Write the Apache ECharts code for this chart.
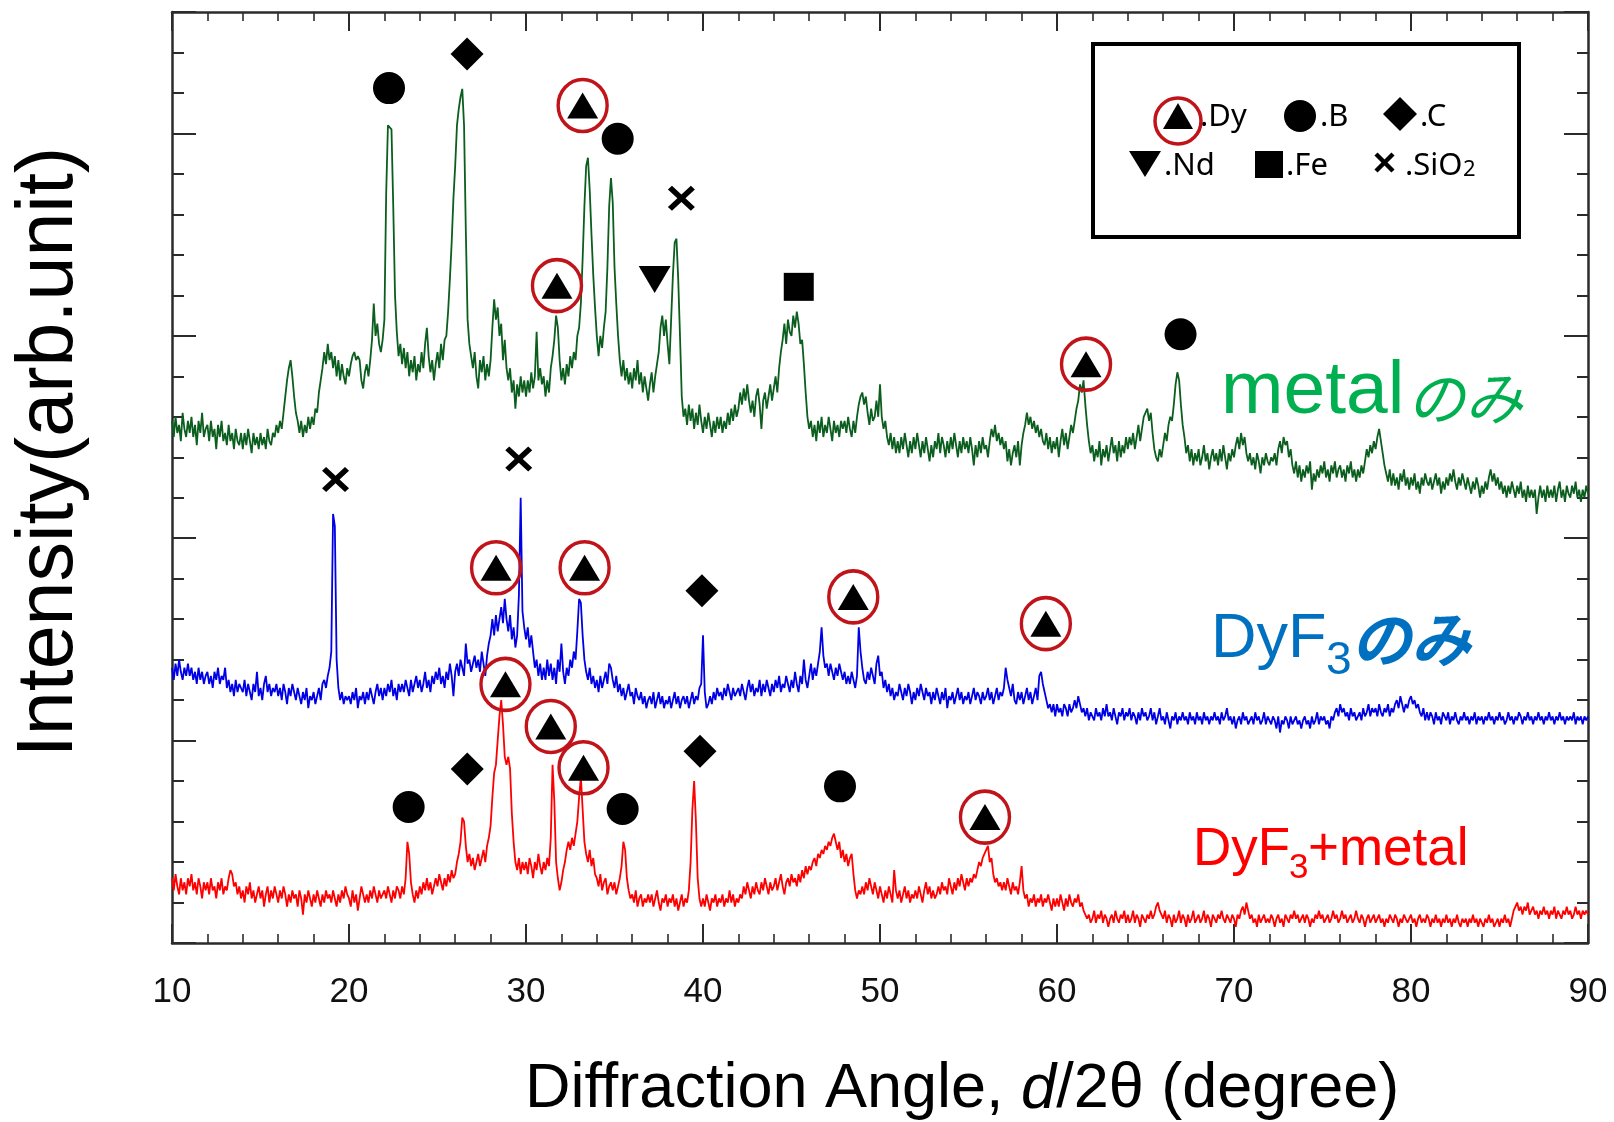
<!DOCTYPE html>
<html>
<head>
<meta charset="utf-8">
<title>XRD patterns: metal / DyF3 / DyF3+metal</title>
<script src="https://cdn.jsdelivr.net/npm/echarts@6/dist/echarts.min.js"></script>
<style>
  html, body { margin: 0; padding: 0; background: #ffffff; }
  #chart { width: 1614px; height: 1122px; }
</style>
</head>
<body>
<div id="chart"></div>
<script>
// Scan grid: 2θ from 10° to 90° in 0.1° steps (801 points per pattern)
const ANGLE_START = 10;
const ANGLE_STEP = 0.1;

// Intensity (arb. unit, offset stacked) — "metalのみ"
const metalOnly = [
12.9,12.5,13.0,12.6,12.8,12.4,13.1,12.7,12.5,12.9,
12.6,13.0,12.5,12.8,12.3,12.9,12.6,13.1,12.5,12.7,
12.8,12.4,12.9,12.5,12.7,12.2,12.8,12.5,12.9,12.4,
12.6,12.3,12.8,12.4,12.6,12.2,12.7,12.4,12.3,12.6,
12.2,12.6,12.3,12.7,12.4,12.1,12.6,12.3,12.5,12.2,
12.6,12.3,12.5,12.2,12.7,12.4,12.3,12.6,12.5,12.8,
12.6,12.9,12.7,13.1,13.5,13.9,14.2,14.4,14.0,13.5,
13.1,12.9,12.6,12.9,12.5,12.8,12.6,13.0,12.7,13.0,
12.8,13.2,13.1,13.6,13.9,14.2,14.6,14.3,14.8,14.4,
14.6,14.2,14.5,14.0,14.4,13.9,14.3,14.0,13.8,14.2,
14.0,14.3,14.5,14.6,14.4,14.5,14.4,13.9,13.7,14.1,
14.3,14.0,14.4,14.9,15.8,15.0,15.3,14.8,14.6,14.9,
15.4,18.5,20.2,20.2,20.1,18.2,16.0,15.1,14.5,14.8,
14.3,14.7,14.2,14.6,14.0,14.4,14.1,14.5,13.9,14.3,
14.1,14.6,14.2,14.8,15.2,14.5,14.1,14.4,13.9,14.3,
14.6,14.2,14.8,14.4,14.9,15.0,15.6,16.4,17.3,18.4,
19.2,20.2,20.6,20.9,21.1,20.2,17.6,15.4,14.8,14.5,
14.2,14.6,14.0,13.7,14.4,14.1,14.5,13.9,14.3,14.0,
14.4,15.2,15.9,15.4,15.7,15.0,15.3,14.4,14.9,14.2,
13.9,14.2,13.6,13.9,13.2,13.8,13.5,14.0,13.6,13.9,
13.5,13.9,13.6,14.1,13.7,14.0,15.1,13.9,14.2,13.8,
14.0,13.5,13.9,13.6,14.2,14.5,14.9,15.5,15.2,14.4,
13.9,14.2,13.8,14.3,14.0,14.5,14.2,14.6,14.4,15.0,
15.2,15.8,16.9,18.2,19.2,19.4,18.6,17.5,16.5,15.7,
15.0,14.5,15.0,14.7,15.2,15.6,16.7,18.2,18.9,18.3,
16.7,15.8,15.0,14.4,14.0,14.4,13.9,14.2,13.8,14.1,
13.7,14.2,13.9,14.4,13.8,14.1,13.6,14.0,13.7,13.4,
13.8,14.1,13.6,14.0,14.3,14.6,15.2,15.5,15.0,15.4,
14.8,14.3,15.4,16.5,17.3,17.4,16.4,15.0,13.5,13.0,
13.2,12.8,13.3,12.9,13.2,12.7,13.1,12.8,13.3,12.9,
12.6,13.0,12.7,13.1,12.8,12.5,12.9,12.6,13.0,12.7,
13.0,12.6,12.9,12.7,13.1,12.8,13.2,12.9,13.3,13.0,
13.2,13.6,13.3,13.7,13.4,13.8,13.4,13.1,13.4,13.0,
13.5,13.7,13.3,12.7,13.4,13.6,13.2,13.5,13.8,13.4,
13.7,14.0,13.6,14.2,14.6,14.9,15.3,14.8,15.4,15.1,
15.0,15.5,15.2,15.6,15.3,14.8,14.9,14.3,13.6,13.0,
12.7,12.9,12.5,12.8,12.4,12.9,12.6,13.0,12.5,12.8,
12.6,13.0,12.7,12.4,12.9,12.6,12.8,12.5,12.9,12.7,
12.9,12.6,13.0,12.7,12.5,12.9,12.6,13.0,13.3,13.5,
13.6,13.3,13.5,13.1,12.8,13.2,12.9,13.0,13.4,13.0,
13.8,13.0,12.7,12.9,12.5,12.3,12.6,12.2,12.5,12.1,
12.4,12.1,12.5,12.2,12.6,12.3,12.0,12.4,12.1,12.5,
12.2,12.6,12.3,12.0,12.4,12.1,12.5,12.2,11.9,12.3,
12.0,12.4,12.2,12.6,12.1,12.5,12.3,12.0,12.4,12.1,
12.5,12.2,12.6,12.3,12.0,12.4,12.1,12.5,12.2,12.4,
12.1,12.5,12.2,11.8,12.3,12.0,12.4,12.1,12.5,12.2,
12.3,12.0,12.4,12.7,12.5,12.8,12.4,12.6,12.3,12.5,
12.2,12.4,11.9,12.2,11.8,12.1,12.3,12.0,12.4,11.8,
12.3,12.6,12.8,13.1,12.8,13.0,12.7,12.9,12.6,12.8,
12.5,12.7,12.4,12.3,12.6,12.2,12.5,12.1,12.4,12.2,
12.5,12.0,12.4,12.7,12.3,12.6,12.2,12.5,12.8,12.6,
12.9,13.2,13.4,13.8,13.6,13.9,13.3,12.8,12.4,12.1,
12.3,11.9,12.2,12.0,12.4,11.8,12.2,12.0,12.3,11.9,
12.2,12.5,12.1,12.3,11.9,12.4,12.0,12.3,12.1,12.5,
12.2,12.5,12.3,12.6,12.2,12.5,12.8,12.4,12.7,13.0,
13.0,13.2,12.9,13.1,12.6,12.2,12.0,11.9,12.2,12.0,
12.3,12.6,12.4,12.8,13.0,12.9,13.3,13.8,14.1,13.9,
13.3,12.8,12.5,12.1,12.3,11.9,12.2,11.8,12.1,11.9,
12.2,11.8,12.0,12.3,11.9,12.1,11.7,12.0,12.2,11.9,
12.1,11.8,12.2,11.9,12.3,12.0,11.7,12.1,11.9,12.2,
12.0,12.3,12.5,12.2,12.6,12.3,12.5,12.1,11.9,12.1,
11.8,12.0,11.7,12.1,11.9,11.6,12.0,11.8,12.1,11.9,
11.8,12.0,11.9,12.1,11.8,12.2,12.4,12.1,12.5,12.3,
12.4,12.0,12.2,11.8,11.6,11.9,11.5,11.8,11.4,11.7,
11.5,11.8,11.6,11.9,11.2,11.6,11.4,11.7,11.5,11.8,
11.6,11.9,11.5,11.7,11.4,11.8,11.6,11.9,11.5,11.7,
11.8,11.5,11.7,11.4,11.8,11.6,11.9,11.5,11.7,11.4,
11.7,11.5,11.8,11.6,11.9,12.2,12.0,12.3,12.1,12.4,
12.2,12.5,12.7,12.4,12.1,11.8,11.6,11.4,11.7,11.3,
11.6,11.3,11.5,11.2,11.6,11.4,11.7,11.3,11.5,11.2,
11.5,11.3,11.6,11.2,11.4,11.1,11.5,11.3,11.6,11.4,
11.3,11.5,11.2,11.4,11.6,11.3,11.5,11.1,11.4,11.2,
11.5,11.3,11.6,11.4,11.7,11.4,11.2,11.5,11.3,11.6,
11.4,11.2,11.5,11.3,11.1,11.4,11.2,11.5,11.3,11.0,
11.3,11.1,11.4,11.2,11.5,11.7,11.4,11.6,11.3,11.5,
11.2,11.4,11.1,11.3,11.0,11.3,11.1,11.4,11.2,11.0,
11.3,11.1,11.4,11.0,11.2,10.9,11.3,11.0,11.2,11.0,
11.2,10.6,11.0,11.3,11.0,11.2,10.9,11.3,11.0,11.2,
11.0,11.3,10.9,11.2,11.4,11.0,11.2,10.9,11.3,11.1,
11.0,11.3,11.1,11.4,11.0,11.2,10.9,11.2,11.0,11.3,
11.1
];

// "DyF3のみ"
const dyf3Only = [
6.8,6.5,6.9,6.6,7.0,6.7,6.5,6.8,6.6,6.9,
6.6,6.8,6.5,6.7,6.4,6.8,6.5,6.7,6.4,6.6,
6.7,6.4,6.6,6.3,6.7,6.5,6.8,6.4,6.6,6.5,
6.8,6.3,6.5,6.2,6.4,6.1,6.5,6.2,6.4,6.3,
6.2,6.5,6.1,6.4,6.2,6.0,6.4,6.2,6.7,6.1,
6.3,6.0,6.4,6.6,6.2,6.4,6.1,6.3,6.2,6.4,
6.1,6.3,6.0,6.4,6.2,5.9,6.3,6.1,6.4,6.2,
6.0,6.3,6.1,5.9,6.2,6.0,6.3,5.8,6.1,6.0,
6.2,5.9,6.1,6.3,6.0,6.4,6.5,6.3,6.6,6.8,
7.2,10.6,10.3,7.0,6.3,6.0,6.2,5.9,6.1,6.0,
6.1,5.9,6.2,6.0,6.3,5.8,6.1,6.0,6.2,5.9,
6.2,6.0,6.3,6.1,5.9,6.2,6.4,6.1,6.3,6.0,
6.3,6.1,6.4,6.2,6.5,6.1,6.3,6.0,6.4,6.2,
6.4,6.2,6.5,6.3,6.1,6.5,6.2,6.4,6.6,6.3,
6.5,6.2,6.4,6.7,6.3,6.5,6.2,6.6,6.4,6.7,
6.5,6.8,6.4,6.6,6.3,6.7,6.5,6.9,6.6,6.1,
6.7,6.9,6.6,7.0,6.8,6.6,7.4,6.9,7.0,6.7,
6.9,7.1,6.8,7.0,6.7,7.2,6.9,6.6,7.1,7.4,
7.6,8.0,7.6,8.1,7.7,8.0,8.3,7.9,8.5,8.0,
7.7,8.1,7.5,7.8,7.3,7.6,8.6,11.0,8.2,7.8,
7.5,7.8,7.3,7.6,7.2,6.8,7.0,6.6,6.9,6.5,
6.8,6.5,7.0,6.6,6.9,6.5,6.8,6.4,7.0,6.7,
7.4,6.7,6.4,6.8,6.6,7.0,6.8,7.2,7.0,7.7,
8.5,8.4,7.6,7.0,6.7,6.5,6.8,6.4,6.6,6.3,
6.5,6.2,6.6,6.3,6.5,6.7,6.4,6.9,6.8,6.5,
6.3,6.6,6.2,6.4,6.1,6.3,6.0,6.2,6.4,6.1,
6.2,5.9,6.3,6.1,6.0,6.2,5.9,6.1,5.8,6.0,
6.1,5.9,6.2,5.8,6.0,6.2,5.9,6.1,5.8,6.0,
5.9,6.1,5.8,6.0,6.2,5.9,6.1,5.8,6.0,6.1,
5.9,6.1,5.8,6.0,6.2,5.9,6.1,6.0,6.3,6.4,
7.6,6.2,5.8,5.9,6.1,5.9,6.2,6.0,6.3,6.1,
6.2,6.0,6.3,6.1,6.4,6.2,6.0,6.3,6.1,6.2,
6.3,6.1,6.4,6.2,6.0,6.3,6.5,6.2,6.4,6.1,
6.3,6.2,6.5,6.1,6.4,6.2,6.5,6.3,6.1,6.4,
6.2,6.5,6.3,6.6,6.2,6.4,6.3,6.6,6.4,6.2,
6.5,6.3,6.7,6.4,6.2,6.6,6.4,7.0,6.5,6.3,
6.6,6.9,6.5,6.8,6.6,6.9,7.2,7.8,7.1,6.8,
6.9,6.6,6.9,6.7,6.5,6.8,6.6,6.9,6.7,6.5,
6.7,6.4,6.6,6.4,6.7,6.5,6.3,6.6,7.8,7.2,
6.8,6.5,6.4,6.7,6.5,6.8,6.6,6.4,6.9,7.1,
6.6,6.7,6.3,6.5,6.2,6.4,6.1,6.3,6.0,6.2,
6.1,6.4,6.2,6.0,6.3,6.1,6.4,6.2,5.9,6.2,
6.0,6.3,6.1,6.4,6.2,6.0,6.3,6.1,6.2,5.9,
6.2,6.0,6.3,6.1,5.9,6.2,6.0,6.3,5.8,6.1,
6.0,6.2,5.9,6.1,6.3,6.0,6.2,5.9,6.1,6.0,
6.2,5.9,6.1,6.3,6.0,6.2,6.1,5.9,6.2,6.0,
6.1,6.3,6.0,6.2,5.9,6.1,6.3,6.0,6.2,6.1,
6.3,6.8,6.5,6.3,6.1,6.4,6.0,5.9,6.2,6.0,
6.2,5.9,6.1,6.3,6.0,6.2,5.9,6.1,6.3,6.0,
6.6,6.7,6.4,6.2,6.0,5.8,5.9,5.7,5.9,5.6,
5.9,5.7,5.8,5.6,5.9,5.8,5.6,5.9,5.7,5.8,
6.0,5.8,6.1,5.9,5.7,5.8,5.6,5.8,5.5,5.7,
5.7,5.5,5.8,5.6,5.7,5.5,5.8,5.6,5.9,5.6,
5.7,5.5,5.8,5.6,5.4,5.7,5.6,5.8,5.5,5.7,
5.6,5.8,5.5,5.7,5.6,5.4,5.7,5.5,5.8,5.6,
5.7,5.5,5.6,5.8,5.5,5.7,5.4,5.6,5.8,5.5,
5.6,5.4,5.7,5.5,5.3,5.6,5.5,5.7,5.4,5.6,
5.5,5.7,5.5,5.6,5.4,5.7,5.5,5.6,5.4,5.7,
5.5,5.6,5.4,5.7,5.5,5.6,5.4,5.6,5.5,5.7,
5.5,5.6,5.4,5.7,5.5,5.6,5.8,5.5,5.6,5.4,
5.6,5.3,5.5,5.6,5.4,5.7,5.5,5.6,5.4,5.5,
5.6,5.4,5.7,5.5,5.6,5.4,5.5,5.7,5.4,5.6,
5.5,5.4,5.6,5.5,5.3,5.6,5.2,5.5,5.4,5.6,
5.5,5.3,5.6,5.4,5.5,5.6,5.4,5.5,5.3,5.5,
5.6,5.4,5.5,5.3,5.6,5.4,5.5,5.7,5.4,5.6,
5.5,5.6,5.4,5.5,5.3,5.6,5.5,5.7,5.8,5.6,
5.9,5.7,5.8,5.6,5.7,5.5,5.8,5.6,5.7,5.5,
5.6,5.7,5.5,5.8,5.6,5.7,5.9,5.6,5.8,5.7,
5.8,5.6,5.9,5.7,5.6,5.8,5.7,5.9,5.6,5.8,
5.7,5.9,6.0,5.8,6.1,5.9,5.7,5.9,5.8,6.0,
6.1,5.9,6.0,5.8,5.9,5.7,5.6,5.8,5.5,5.7,
5.5,5.7,5.6,5.4,5.7,5.5,5.6,5.4,5.7,5.6,
5.5,5.7,5.4,5.6,5.5,5.7,5.5,5.4,5.6,5.5,
5.7,5.5,5.6,5.4,5.6,5.5,5.7,5.4,5.6,5.5,
5.6,5.4,5.6,5.5,5.7,5.5,5.6,5.4,5.6,5.5,
5.7,5.5,5.6,5.4,5.5,5.7,5.5,5.6,5.4,5.6,
5.5,5.7,5.6,5.4,5.6,5.5,5.7,5.5,5.6,5.4,
5.6,5.5,5.7,5.5,5.6,5.4,5.6,5.5,5.7,5.5,
5.6,5.4,5.6,5.5,5.7,5.5,5.6,5.4,5.6,5.5,
5.6,5.5,5.7,5.4,5.6,5.5,5.6,5.4,5.6,5.5,
5.6
];

// "DyF3+metal"
const dyf3Metal = [
1.6,1.3,1.7,1.4,1.2,1.6,1.3,1.5,1.2,1.6,
1.4,1.7,1.3,1.5,1.2,1.6,1.4,1.1,1.5,1.3,
1.5,1.2,1.6,1.3,1.4,1.1,1.5,1.3,1.6,1.2,
1.4,1.3,1.6,1.8,1.7,1.4,1.5,1.2,1.4,1.1,
1.3,1.0,1.4,1.2,1.5,1.1,1.3,1.0,1.2,1.4,
1.1,1.3,0.9,1.2,1.4,1.0,1.3,1.1,1.4,1.2,
1.0,1.3,1.1,1.4,1.2,0.9,1.2,1.0,1.3,1.1,
1.2,0.9,1.3,1.1,0.7,1.2,1.0,1.3,1.1,0.9,
1.2,1.0,1.3,1.1,0.9,1.2,1.0,1.3,1.1,1.2,
1.0,1.3,1.1,0.9,1.2,1.0,1.3,1.1,1.4,1.2,
1.1,0.9,1.3,1.0,1.2,0.8,1.1,1.4,1.2,1.0,
1.2,1.0,1.3,1.1,1.4,1.2,1.0,1.3,1.1,1.2,
1.3,1.1,1.4,1.2,1.0,1.3,1.1,1.4,1.3,1.1,
1.4,1.2,1.6,2.5,2.2,1.5,1.2,1.0,1.3,1.1,
1.4,1.2,1.5,1.3,1.6,1.3,1.5,1.2,1.4,1.6,
1.4,1.7,1.5,1.3,1.6,1.4,1.7,1.5,1.8,1.6,
1.7,2.0,2.2,2.5,3.1,3.0,2.4,2.0,2.2,1.9,
2.1,1.8,2.0,2.2,1.9,2.1,2.3,2.0,2.4,2.6,
2.9,3.6,4.2,4.4,5.0,5.6,6.0,5.4,4.6,4.4,
4.6,4.3,3.2,2.5,2.0,1.8,2.1,1.7,2.0,1.8,
2.0,1.7,2.1,1.9,1.6,2.0,1.8,2.2,1.9,1.7,
2.0,1.8,2.1,1.9,2.6,4.4,3.5,2.0,1.6,1.3,
1.5,1.8,2.0,2.3,2.5,2.3,2.6,2.4,2.7,3.0,
3.6,4.1,3.3,2.5,2.2,2.0,2.3,1.9,2.1,1.7,
1.6,1.4,1.7,1.3,1.5,1.6,1.2,1.4,1.5,1.3,
1.5,1.2,1.4,1.6,1.9,2.5,2.3,1.6,1.3,1.1,
1.2,1.0,1.3,0.9,1.1,1.2,0.9,1.1,1.0,1.2,
1.0,1.2,0.9,1.1,1.3,1.0,0.8,1.1,1.0,1.2,
0.9,1.1,1.0,1.2,0.9,1.1,0.8,1.0,1.2,0.9,
1.1,1.0,1.3,2.0,3.3,4.0,3.0,1.6,1.1,0.9,
1.1,0.9,1.2,1.0,0.8,1.1,1.0,1.2,0.9,1.1,
1.0,1.2,0.9,1.1,1.0,1.3,1.0,1.2,0.9,1.1,
1.0,1.2,1.1,1.4,1.2,1.5,1.3,1.1,1.4,1.2,
1.5,1.3,1.2,1.5,1.3,1.6,1.4,1.2,1.5,1.3,
1.4,1.6,1.3,1.5,1.7,1.4,1.2,1.5,1.6,1.4,
1.7,1.5,1.6,1.4,1.7,1.5,1.8,1.6,1.9,1.7,
1.9,1.8,2.0,2.1,1.9,2.2,2.1,2.3,2.2,2.4,
2.3,2.5,2.4,2.6,2.7,2.5,2.3,2.5,2.1,2.3,
2.0,2.2,1.9,2.1,2.2,1.7,1.3,1.1,1.3,1.2,
1.4,1.2,1.5,1.3,1.6,1.4,1.2,1.5,1.3,1.1,
1.4,1.2,1.0,1.3,1.1,1.4,1.2,1.0,1.8,1.3,
1.1,1.3,1.0,1.2,1.4,1.1,1.3,1.0,1.2,1.1,
1.3,1.1,1.4,1.2,1.0,1.3,1.5,1.2,1.4,1.1,
1.3,1.1,1.2,1.4,1.2,1.5,1.3,1.4,1.2,1.6,
1.4,1.2,1.5,1.3,1.6,1.4,1.7,1.5,1.3,1.6,
1.4,1.6,1.5,1.7,1.6,1.8,2.0,1.9,2.1,2.2,
2.3,2.4,2.0,2.1,1.7,1.5,1.6,1.4,1.5,1.3,
1.5,1.3,1.6,1.4,1.2,1.5,1.3,1.4,1.2,1.5,
1.9,1.3,1.1,1.2,0.9,1.1,1.0,1.2,0.9,1.1,
1.0,1.2,0.9,1.1,1.0,1.2,1.0,0.8,1.1,0.9,
1.1,0.9,1.2,1.0,0.8,1.1,0.9,1.2,1.0,0.9,
1.1,1.0,1.2,0.9,1.0,0.8,0.7,0.6,0.7,0.5,
0.6,0.8,0.5,0.7,0.6,0.8,0.5,0.7,0.6,0.4,
0.6,0.7,0.5,0.8,0.6,0.5,0.7,0.6,0.8,0.5,
0.7,0.5,0.6,0.8,0.5,0.7,0.6,0.4,0.7,0.6,
0.5,0.7,0.6,0.8,0.6,0.7,0.9,1.0,0.8,0.7,
0.6,0.8,0.5,0.7,0.6,0.4,0.7,0.5,0.6,0.8,
0.5,0.7,0.6,0.4,0.7,0.5,0.6,0.8,0.5,0.6,
0.7,0.5,0.6,0.8,0.5,0.7,0.6,0.4,0.7,0.6,
0.5,0.7,0.6,0.8,0.6,0.5,0.7,0.6,0.5,0.7,
0.6,0.4,0.7,0.6,0.8,0.9,0.7,1.0,0.8,0.6,
0.7,0.5,0.6,0.4,0.7,0.5,0.6,0.7,0.5,0.6,
0.5,0.7,0.6,0.4,0.6,0.7,0.5,0.6,0.4,0.7,
0.6,0.5,0.7,0.6,0.8,0.6,0.7,0.5,0.6,0.7,
0.5,0.7,0.6,0.4,0.6,0.5,0.7,0.6,0.8,0.6,
0.7,0.5,0.6,0.7,0.5,0.6,0.8,0.6,0.7,0.5,
0.6,0.8,0.6,0.7,0.5,0.6,0.7,0.5,0.6,0.8,
0.6,0.5,0.7,0.6,0.4,0.6,0.7,0.5,0.6,0.7,
0.5,0.6,0.7,0.5,0.6,0.4,0.6,0.5,0.7,0.6,
0.5,0.7,0.6,0.4,0.6,0.5,0.7,0.6,0.5,0.6,
0.7,0.5,0.6,0.4,0.6,0.7,0.5,0.6,0.5,0.7,
0.6,0.4,0.6,0.5,0.7,0.5,0.6,0.4,0.6,0.5,
0.7,0.5,0.6,0.4,0.6,0.5,0.7,0.5,0.4,0.6,
0.5,0.6,0.4,0.6,0.5,0.7,0.5,0.6,0.4,0.6,
0.5,0.4,0.6,0.5,0.7,0.5,0.6,0.4,0.5,0.6,
0.4,0.6,0.5,0.7,0.5,0.6,0.4,0.6,0.8,0.9,
1.0,0.8,0.9,0.7,0.9,0.8,1.0,0.7,0.8,0.9,
0.7,0.8,0.6,0.8,0.7,0.9,0.7,0.8,0.6,0.8,
0.7,0.9,0.6,0.8,0.7,0.6,0.8,0.7,0.9,0.7,
0.8,0.6,0.7,0.9,0.7,0.8,0.6,0.8,0.7,0.8,
0.7
];

// Phase identification marks: [2θ, height on the stacked intensity scale]
const dyMarks   = [[33.2,20.69],[31.75,16.24],[61.64,14.30],[28.31,9.27],[33.31,9.27],[48.49,8.55],[59.37,7.89],[28.84,6.39],[31.40,5.35],[33.25,4.33],[55.93,3.11]];
const bMarks    = [[22.26,21.12],[35.18,19.87],[66.98,15.04],[23.37,3.36],[35.46,3.31],[47.74,3.87]];
const cMarks    = [[26.67,21.96],[39.94,8.70],[26.68,4.30],[39.83,4.74]];
const ndMarks   = [[37.27,16.39]];
const feMarks   = [[45.41,16.21]];
const sio2Marks = [[38.78,18.40],[19.24,11.45],[29.59,11.96]];

// Axis setup
const X_MIN = 10, X_MAX = 90, X_MAJOR = 10, X_MINOR_SPLIT = 5;
const Y_MIN = 0, Y_MAX = 23, Y_MINOR = 1, Y_MAJOR = 5;

function toPairs(values) {
  return values.map((v, i) => [Math.round((ANGLE_START + i * ANGLE_STEP) * 10) / 10, v]);
}

const FRAME = '#2b2b2b';
const SANS = '"Liberation Sans", Arial, Helvetica, sans-serif';
const JP = '"Noto Sans CJK JP", "Noto Sans CJK SC", sans-serif';
const CROSS_PATH = 'path://M0,3L3,0L10,7L17,0L20,3L13,10L20,17L17,20L10,13L3,20L0,17L7,10Z';

function xAxisDef(position, showLabel) {
  return {
    type: 'value', position: position, min: X_MIN, max: X_MAX, interval: X_MAJOR,
    axisLine: { show: true, onZero: false, lineStyle: { color: FRAME, width: 2.5 } },
    axisTick: { show: true, inside: true, length: 19, lineStyle: { color: FRAME, width: 2 } },
    minorTick: { show: true, splitNumber: X_MINOR_SPLIT, length: 9, lineStyle: { color: FRAME, width: 1.6 } },
    splitLine: { show: false }, minorSplitLine: { show: false },
    axisLabel: {
      show: showLabel, fontSize: 35, fontFamily: SANS, color: '#111', margin: 32,
      showMinLabel: true, showMaxLabel: true
    }
  };
}
function yAxisDef(position, interval, tickLen, showLine) {
  return {
    type: 'value', position: position, min: Y_MIN, max: Y_MAX, interval: interval,
    axisLine: { show: showLine, onZero: false, lineStyle: { color: FRAME, width: 2.5 } },
    axisTick: { show: true, inside: true, length: tickLen, lineStyle: { color: FRAME, width: 2 } },
    splitLine: { show: false },
    axisLabel: { show: false }
  };
}

function traceSeries(name, values, color) {
  return {
    name: name, type: 'line', data: toPairs(values), xAxisIndex: 0, yAxisIndex: 0,
    showSymbol: false, symbol: 'none', smooth: false, silent: true, animation: false,
    lineStyle: { color: color, width: 1.8, opacity: 1 }, z: 2
  };
}
function markSeries(data, symbol, size, extra) {
  return Object.assign({
    type: 'scatter', data: data, xAxisIndex: 0, yAxisIndex: 0, symbol: symbol, symbolSize: size,
    silent: true, animation: false, itemStyle: { color: '#000', opacity: 1 }, z: 5
  }, extra || {});
}

// Legend panel graphics (phase key)
function legendText(text, x, yMid, size) {
  return {
    type: 'text', z: 20,
    style: { text: text, x: x, y: yMid, font: (size || 31) + 'px "Noto Sans", "Open Sans", sans-serif',
             fill: '#000', align: 'left', verticalAlign: 'middle', textAlign: 'left', textVerticalAlign: 'middle' }
  };
}
const legendGraphics = [
  { type: 'rect', z: 18, shape: { x: 1093, y: 44, width: 426, height: 193 },
    style: { fill: '#fff', stroke: '#000', lineWidth: 4 } },
  { type: 'circle', z: 20, shape: { cx: 1178, cy: 121, r: 23 }, style: { fill: 'none', stroke: '#C0141A', lineWidth: 3.5 } },
  { type: 'polygon', z: 20, shape: { points: [[1163, 129], [1193, 129], [1178, 103]] }, style: { fill: '#000' } },
  legendText('.Dy', 1200, 117),
  { type: 'circle', z: 20, shape: { cx: 1300, cy: 116, r: 16 }, style: { fill: '#000' } },
  legendText('.B', 1320, 117),
  { type: 'polygon', z: 20, shape: { points: [[1383, 114], [1400, 97], [1417, 114], [1400, 131]] }, style: { fill: '#000' } },
  legendText('.C', 1420, 117),
  { type: 'polygon', z: 20, shape: { points: [[1129, 151], [1161, 151], [1145, 177]] }, style: { fill: '#000' } },
  legendText('.Nd', 1164, 166),
  { type: 'rect', z: 20, shape: { x: 1255, y: 151, width: 28, height: 27 }, style: { fill: '#000' } },
  legendText('.Fe', 1286, 166),
  { type: 'line', z: 20, shape: { x1: 1376, y1: 154, x2: 1393, y2: 171 }, style: { stroke: '#000', lineWidth: 4.5 } },
  { type: 'line', z: 20, shape: { x1: 1393, y1: 154, x2: 1376, y2: 171 }, style: { stroke: '#000', lineWidth: 4.5 } },
  legendText('.SiO', 1405, 166),
  legendText('2', 1463, 170, 22)
];

// Sample name labels, axis titles
function plainText(text, x, yMid, font, color, extra) {
  return Object.assign({
    type: 'text', z: 15,
    style: { text: text, x: x, y: yMid, font: font, fill: color,
             align: 'left', verticalAlign: 'middle', textAlign: 'left', textVerticalAlign: 'middle' }
  }, extra || {});
}
const labelGraphics = [
  plainText('metal', 1221, 392, '75px ' + SANS, '#00B050'),
  plainText('のみ', 1407, 398, 'italic 58px ' + JP, '#00B050'),
  plainText('DyF', 1211, 640, '63px ' + SANS, '#0070C0'),
  plainText('3', 1326, 661, '46px ' + SANS, '#0070C0'),
  plainText('のみ', 1351, 639, 'italic bold 60px ' + JP, '#0070C0'),
  plainText('DyF', 1193, 850, '53px ' + SANS, '#FF0000'),
  plainText('3', 1289, 868, '35px ' + SANS, '#FF0000'),
  plainText('+metal', 1308, 850, '53px ' + SANS, '#FF0000'),
  {
    type: 'text', z: 15,
    style: {
      text: '{n|Diffraction Angle, }{i|d}{n|/2θ (degree)}', x: 525, y: 1090,
      align: 'left', verticalAlign: 'middle', textAlign: 'left', textVerticalAlign: 'middle',
      rich: {
        n: { fontSize: 63, fontFamily: SANS, color: '#000' },
        i: { fontSize: 63, fontFamily: SANS, fontStyle: 'italic', color: '#000' }
      }
    }
  },
  {
    type: 'text', z: 15, x: 50, y: 452, rotation: Math.PI / 2,
    style: { text: 'Intensity(arb.unit)', x: 0, y: 0, font: '79px ' + SANS, fill: '#000',
             align: 'center', verticalAlign: 'middle', textAlign: 'center', textVerticalAlign: 'middle' }
  }
];

const chart = echarts.init(document.getElementById('chart'), null, { renderer: 'canvas' });
chart.setOption({
  backgroundColor: '#ffffff',
  animation: false,
  grid: { left: 172, right: 26, top: 12, bottom: 179, containLabel: false },
  xAxis: [xAxisDef('bottom', true), xAxisDef('top', false)],
  yAxis: [
    yAxisDef('left', Y_MINOR, 12, true),
    yAxisDef('left', Y_MAJOR, 24, false),
    yAxisDef('right', Y_MINOR, 11, true),
    yAxisDef('right', Y_MAJOR, 24, false)
  ],
  series: [
    traceSeries('metalのみ', metalOnly, '#0B5E1E'),
    traceSeries('DyF3のみ', dyf3Only, '#0000E6'),
    traceSeries('DyF3+metal', dyf3Metal, '#FF0000'),
    markSeries(dyMarks, 'circle', [49, 52], { itemStyle: { color: 'rgba(0,0,0,0)', borderColor: '#C0141A', borderWidth: 3.5, opacity: 1 } }),
    markSeries(dyMarks, 'triangle', [31, 26]),
    markSeries(bMarks, 'circle', 32),
    markSeries(cMarks, 'diamond', [33, 33]),
    markSeries(ndMarks, 'triangle', [32, 27], { symbolRotate: 180 }),
    markSeries(feMarks, 'rect', [30, 28]),
    markSeries(sio2Marks, CROSS_PATH, [27, 25])
  ],
  graphic: { elements: legendGraphics.concat(labelGraphics) }
});
</script>
</body>
</html>
